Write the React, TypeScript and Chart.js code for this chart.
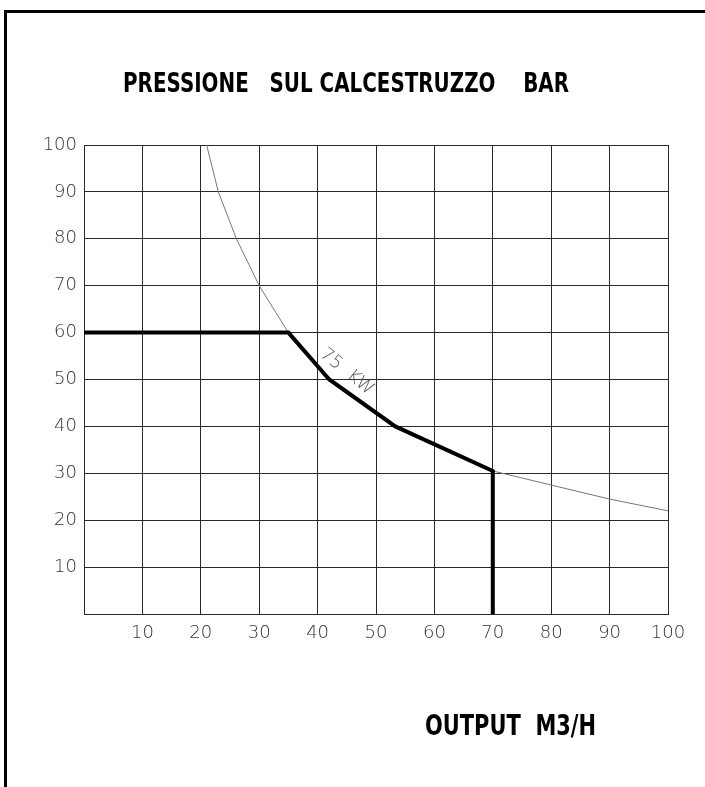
import React, { useEffect, useRef } from "react";
import { Chart, registerables } from "chart.js";

Chart.register(...registerables);

// ---- data ----
const TITLE = "PRESSIONE   SUL CALCESTRUZZO    BAR";
const X_TITLE = "OUTPUT  M3/H";
const CURVE_LABEL = "75  KW";

const xTicks = [0, 10, 20, 30, 40, 50, 60, 70, 80, 90, 100];
const yTicks = [0, 10, 20, 30, 40, 50, 60, 70, 80, 90, 100];

// thick operating limit line (output m3/h, pressure bar)
const limitX = [0, 35, 42, 53.3, 70, 70];
const limitY = [60, 60, 50, 40, 30.5, 0];

// thin 75 kW power curve
const powerX = [21, 23, 26.1, 30, 35, 42, 53.3, 70, 80, 90, 100];
const powerY = [100, 90, 80, 70, 60, 50, 40, 30.5, 27.5, 24.5, 22];

// label anchor (data coords) and angle for "75 KW"
const curveLabelAt = { x: 45, y: 51.6, angle: 39 };

const TICK_FONT = '"DejaVu Sans"';

function drawFitted(ctx: CanvasRenderingContext2D, text: string, x0: number, x1: number, baseline: number, font: string) {
  ctx.save();
  ctx.font = font;
  ctx.textBaseline = "alphabetic";
  ctx.textAlign = "left";
  const w = ctx.measureText(text).width;
  ctx.translate(x0, baseline);
  ctx.scale((x1 - x0) / w, 1);
  ctx.fillStyle = "#000";
  ctx.fillText(text, 0, 0);
  ctx.restore();
}

const overlay = {
  id: "overlay",
  afterDraw(chart: any) {
    const ctx: CanvasRenderingContext2D = chart.ctx;
    ctx.save();
    // frame
    ctx.strokeStyle = "#000";
    ctx.lineWidth = 3;
    ctx.strokeRect(5.5, 11.5, 900, 900);
    // titles
    drawFitted(ctx, TITLE, 123, 569, 92, 'bold 27px "DejaVu Sans"');
    drawFitted(ctx, X_TITLE, 425, 596, 735, 'bold 28px "DejaVu Sans"');
    // curve label
    const xs = chart.scales.x;
    const ys = chart.scales.y;
    const px = xs.getPixelForValue(curveLabelAt.x);
    const py = ys.getPixelForValue(curveLabelAt.y);
    ctx.translate(px, py);
    ctx.rotate((curveLabelAt.angle * Math.PI) / 180);
    ctx.font = `200 18px ${TICK_FONT}`;
    ctx.fillStyle = "#555";
    ctx.textAlign = "center";
    ctx.textBaseline = "middle";
    ctx.fillText(CURVE_LABEL, 0, 0);
    ctx.restore();
  },
};

export default function App() {
  const ref = useRef<HTMLCanvasElement>(null);
  useEffect(() => {
    if (!ref.current) return;
    const chart = new Chart(ref.current, {
      type: "line",
      data: {
        datasets: [
          {
            label: "limit",
            data: limitX.map((x, i) => ({ x, y: limitY[i] })),
            borderColor: "#000",
            borderWidth: 4,
            pointRadius: 0,
            tension: 0,
            borderJoinStyle: "miter",
            fill: false,
          },
          {
            label: "75 kW",
            data: powerX.map((x, i) => ({ x, y: powerY[i] })),
            borderColor: "#777",
            borderWidth: 1,
            pointRadius: 0,
            tension: 0,
            fill: false,
          },
        ],
      },
      options: {
        responsive: false,
        animation: false,
        layout: { padding: { top: 145, right: 37, bottom: 0, left: 0 } },
        plugins: { legend: { display: false }, title: { display: false }, tooltip: { enabled: false } },
        scales: {
          x: {
            type: "linear",
            min: 0,
            max: 100,
            afterBuildTicks: (s: any) => {
              s.ticks = xTicks.map((v) => ({ value: v }));
            },
            afterFit: (s: any) => {
              s.height = 173;
            },
            ticks: {
              callback: (v: any) => (v === 0 ? "" : String(v)),
              color: "#333",
              font: { family: TICK_FONT, size: 18, weight: "200" as any },
              padding: 9,
              maxRotation: 0,
              autoSkip: false,
            },
            grid: { color: "#2a2a2a", lineWidth: 1, drawTicks: false },
            border: { color: "#2a2a2a", width: 1 },
          },
          y: {
            type: "linear",
            min: 0,
            max: 100,
            afterBuildTicks: (s: any) => {
              s.ticks = yTicks.map((v) => ({ value: v }));
            },
            afterFit: (s: any) => {
              s.width = 84;
            },
            ticks: {
              callback: (v: any) => (v === 0 ? "" : String(v)),
              color: "#333",
              font: { family: TICK_FONT, size: 18, weight: "200" as any },
              padding: 7,
              autoSkip: false,
            },
            grid: { color: "#2a2a2a", lineWidth: 1, drawTicks: false },
            border: { color: "#2a2a2a", width: 1 },
          },
        },
      },
      plugins: [overlay],
    });
    return () => chart.destroy();
  }, []);
  return (
    <div style={{ position: "absolute", left: 0, top: 0, width: 705, height: 787, background: "#fff" }}>
      <canvas ref={ref} width={705} height={787} style={{ display: "block" }} />
    </div>
  );
}
